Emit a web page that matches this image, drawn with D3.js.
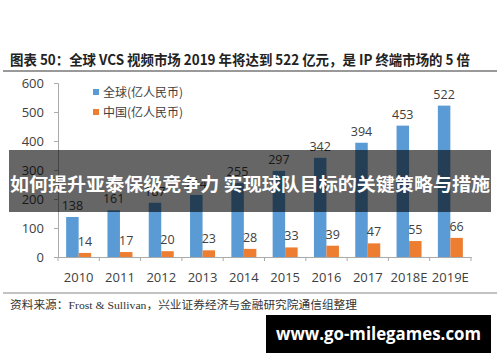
<!DOCTYPE html>
<html>
<head>
<meta charset="utf-8">
<script src="https://cdn.jsdelivr.net/npm/d3@7"></script>
<style>
  body { margin: 0; background: #fff; }
  svg { display: block; }
</style>
</head>
<body>
<div id="chart"></div>
<script>
// data
const years = ["2010", "2011", "2012", "2013", "2014", "2015", "2016", "2017", "2018E", "2019E"];
const globalVals = [138, 161, 187, 214, 255, 297, 342, 394, 453, 522];
const chinaVals = [14, 17, 20, 23, 28, 33, 39, 47, 55, 66];
const yTicks = [0, 100, 200, 300, 400, 500, 600];
const seriesNames = ["全球(亿人民币)", "中国(亿人民币)"];

const width = 500, height = 362;
const blue = "#5b9bd5", orange = "#ed7d31";
const cjk = "'Noto Sans CJK SC', 'Noto Sans', sans-serif";

const svg = d3.select("#chart").append("svg")
  .attr("width", width)
  .attr("height", height);

// title + rules
svg.append("text")
  .attr("x", 10).attr("y", 65)
  .attr("font-family", cjk)
  .attr("font-weight", "bold")
  .attr("font-size", 14)
  .attr("fill", "#222")
  .attr("textLength", 460)
  .attr("lengthAdjust", "spacingAndGlyphs")
  .text("图表 50：全球 VCS 视频市场 2019 年将达到 522 亿元，是 IP 终端市场的 5 倍");

svg.append("line")
  .attr("x1", 3).attr("x2", 497).attr("y1", 71).attr("y2", 71)
  .attr("stroke", "#777").attr("stroke-width", 1.5);

svg.append("line")
  .attr("x1", 3).attr("x2", 497).attr("y1", 293).attr("y2", 293)
  .attr("stroke", "#888").attr("stroke-width", 1.2);

// scales
const x = d3.scaleBand().domain(years).range([58, 471]);
const y = d3.scaleLinear().domain([0, 600]).range([257, 83]);
const barW = 12.5;

// axes
const yAxis = svg.append("g")
  .attr("transform", "translate(58,0)")
  .call(d3.axisLeft(y).tickValues(yTicks).tickSize(4).tickPadding(10));
yAxis.select(".domain").attr("stroke", "#aaa");
yAxis.selectAll(".tick line").attr("stroke", "#aaa");
yAxis.selectAll(".tick text")
  .attr("font-family", "'Open Sans', 'Noto Sans', sans-serif")
  .attr("font-size", 13)
  .attr("fill", "#404040");

const xAxis = svg.append("g")
  .attr("transform", "translate(0,257)")
  .call(d3.axisBottom(x).tickSize(0).tickPadding(16));
xAxis.select(".domain").attr("stroke", "#aaa");
xAxis.selectAll(".tick text")
  .attr("font-family", "'Open Sans', 'Noto Sans', sans-serif")
  .attr("font-size", 13)
  .attr("fill", "#404040");
// tick marks at band boundaries
xAxis.selectAll(".sep")
  .data(years.concat(["end"]))
  .enter().append("line")
    .attr("x1", (d, i) => 58 + i * x.step())
    .attr("x2", (d, i) => 58 + i * x.step())
    .attr("y1", 0).attr("y2", 4)
    .attr("stroke", "#aaa");

// bars
const mid = d => x(d) + x.bandwidth() / 2;

svg.append("g")
  .selectAll("rect")
  .data(years)
  .enter().append("rect")
    .attr("x", d => mid(d) - barW)
    .attr("y", (d, i) => y(globalVals[i]))
    .attr("width", barW)
    .attr("height", (d, i) => y(0) - y(globalVals[i]))
    .attr("fill", blue);

svg.append("g")
  .selectAll("rect")
  .data(years)
  .enter().append("rect")
    .attr("x", d => mid(d))
    .attr("y", (d, i) => y(chinaVals[i]))
    .attr("width", barW)
    .attr("height", (d, i) => y(0) - y(chinaVals[i]))
    .attr("fill", orange);

// value labels
const lblFont = "'Open Sans', 'Noto Sans', sans-serif";
svg.append("g")
  .selectAll("text")
  .data(years)
  .enter().append("text")
    .attr("x", d => mid(d) - barW / 2)
    .attr("y", (d, i) => y(globalVals[i]) - 7)
    .attr("text-anchor", "middle")
    .attr("font-family", lblFont)
    .attr("font-size", 12.5)
    .attr("fill", "#404040")
    .text((d, i) => globalVals[i]);

svg.append("g")
  .selectAll("text")
  .data(years)
  .enter().append("text")
    .attr("x", d => mid(d) + barW / 2)
    .attr("y", (d, i) => y(chinaVals[i]) - 7)
    .attr("text-anchor", "middle")
    .attr("font-family", lblFont)
    .attr("font-size", 12.5)
    .attr("fill", "#404040")
    .text((d, i) => chinaVals[i]);

// legend
const legend = svg.append("g");
[blue, orange].forEach((c, i) => {
  legend.append("rect")
    .attr("x", 93).attr("y", 89 + i * 20)
    .attr("width", 6).attr("height", 6)
    .attr("fill", c);
  legend.append("text")
    .attr("x", 103).attr("y", 96.5 + i * 20)
    .attr("font-family", cjk)
    .attr("font-size", 12)
    .attr("fill", "#404040")
    .text(seriesNames[i]);
});

// source note
svg.append("text")
  .attr("x", 10).attr("y", 309)
  .attr("font-family", "'Liberation Serif', 'Noto Sans CJK SC', serif")
  .attr("font-size", 11)
  .attr("fill", "#333")
  .attr("textLength", 347)
  .attr("lengthAdjust", "spacingAndGlyphs")
  .text("资料来源：Frost & Sullivan，兴业证券经济与金融研究院通信组整理");

// overlay banner
svg.append("rect")
  .attr("x", 9).attr("y", 150)
  .attr("width", 482).attr("height", 62)
  .attr("fill", "#000").attr("fill-opacity", 0.6);

svg.append("text")
  .attr("x", 250).attr("y", 191)
  .attr("text-anchor", "middle")
  .attr("font-family", cjk)
  .attr("font-weight", "bold")
  .attr("font-size", 18)
  .attr("fill", "#fff")
  .attr("textLength", 480)
  .attr("lengthAdjust", "spacingAndGlyphs")
  .text("如何提升亚泰保级竞争力 实现球队目标的关键策略与措施");

// watermark box
svg.append("rect")
  .attr("x", 266).attr("y", 315)
  .attr("width", 225).attr("height", 38)
  .attr("fill", "#000");

svg.append("text")
  .attr("x", 378.5).attr("y", 340)
  .attr("text-anchor", "middle")
  .attr("font-family", "'Open Sans', 'Noto Sans', sans-serif")
  .attr("font-weight", "bold")
  .attr("font-size", 18)
  .attr("fill", "#fff")
  .attr("textLength", 205)
  .attr("lengthAdjust", "spacingAndGlyphs")
  .text("www.go-milegames.com");
</script>
</body>
</html>
